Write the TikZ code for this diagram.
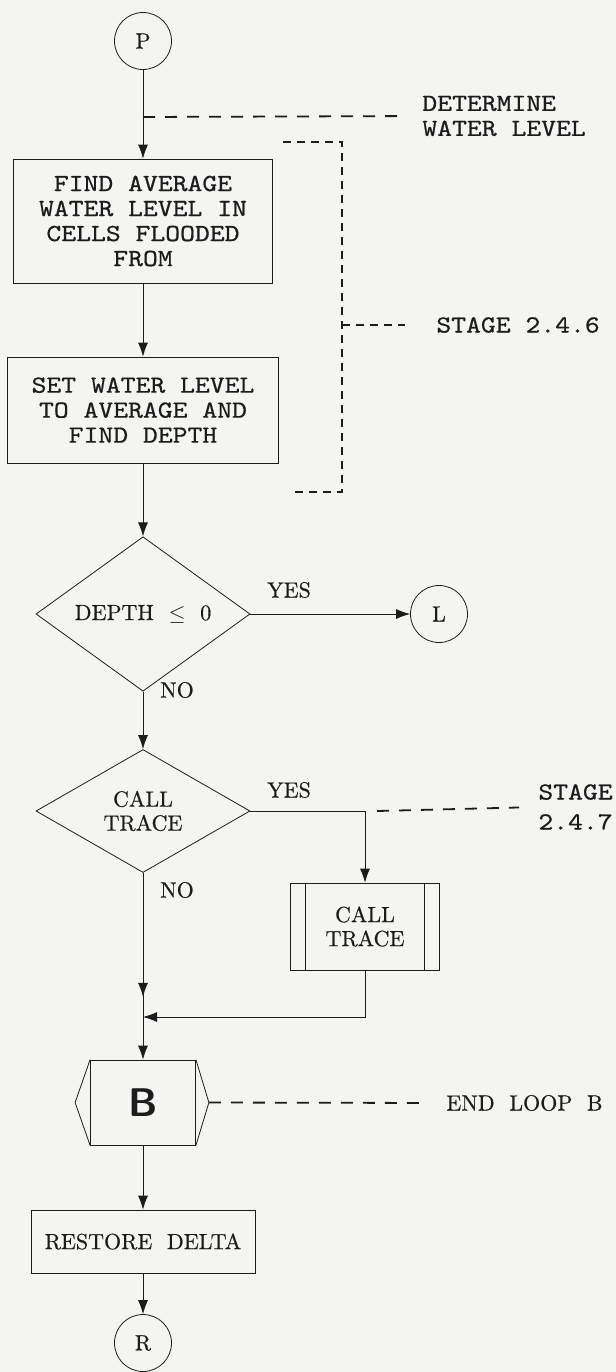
\documentclass[tikz,border=0pt]{standalone}
\usepackage{fontspec}
\usetikzlibrary{arrows.meta,calc,positioning,shapes.geometric,decorations.markings}
\newfontfamily\twfamily{lmmono10-regular.otf}[FakeStretch=1.15,FakeBold=0.6]
\newfontfamily\sefamily{lmroman10-regular.otf}[FakeBold=0.5]
\newcommand\typew{\fontsize{12.3}{12.5}\twfamily}
\newcommand\flowfont{\fontsize{11}{12}\sefamily}
\definecolor{ink}{HTML}{1C1C1C}
\definecolor{paper}{HTML}{F4F4F2}
\tikzset{>={Latex[length=7pt,width=5pt]},line width=1.2pt,
  every node/.style={font=\flowfont,text=ink},
  flow/.style={->,draw=ink},
  link/.style={draw=ink},
  conn/.style={circle,draw=ink,minimum size=28.5pt,inner sep=0pt},
  procbox/.style={rectangle,draw=ink,align=center,inner sep=0pt},
  test/.style={diamond,draw=ink,align=center,inner sep=0pt,
    minimum width=107pt,minimum height=61.5pt},
  note/.style={font=\typew,align=left,anchor=west,inner sep=0pt},
  guide/.style={draw=ink,dash pattern=on 6pt off 5pt,line width=.9pt},
  bracket/.style={draw=ink,dash pattern=on 4pt off 3pt,line width=.9pt},
  midarrow/.style={postaction={decorate},
    decoration={markings,mark=at position #1 with {\arrow{>}}}}}
\begin{document}
\begin{tikzpicture}[x=0.5pt,y=-0.5pt]
\fill[paper] (0,0) rectangle (616,1372);
\useasboundingbox (0,0) rectangle (616,1372);
\node[conn] (P) at (143,41) {P};
\node[procbox,font=\typew,minimum width=129.5pt,minimum height=62pt] (avg) at (143,221)
  {FIND AVERAGE\\WATER LEVEL IN\\CELLS FLOODED\\FROM};
\node[procbox,font=\typew,minimum width=135.5pt,minimum height=53pt] (level) at (143,410)
  {SET WATER LEVEL\\TO AVERAGE AND\\FIND DEPTH};
\node[test] (depth) at (143,614) {DEPTH \ $\leq$ \ 0};
\node[conn] (L) at (439,614) {L};
\node[test] (ask) at (143,811) {CALL\\TRACE};
\node[procbox,minimum width=74.5pt,minimum height=43.5pt] (trace) at (365,926.5) {CALL\\TRACE};
\draw[link] ([xshift=7.5pt]trace.north west) -- ([xshift=7.5pt]trace.south west);
\draw[link] ([xshift=-8pt]trace.north east) -- ([xshift=-8pt]trace.south east);
\coordinate (join) at (143,1017);
\node[procbox,minimum width=52.5pt,minimum height=42.5pt,font=\fontsize{20}{20}\sffamily\bfseries] (B) at (143,1102.5) {B};
\draw[link] (B.north west) -- ([xshift=-7.5pt]B.west) -- (B.south west);
\draw[link] (B.north east) -- ([xshift=6.5pt]B.east) -- (B.south east);
\node[procbox,minimum width=112pt,minimum height=31.5pt] (restore) at (143,1241.5) {RESTORE \ DELTA};
\node[conn] (R) at (143,1343) {R};
\node at (289,590) (yes1) {YES};
\node at (177,690) (no1) {NO};
\node at (289,790) (yes2) {YES};
\node at (177,890) (no2) {NO};
\draw[flow] (P) -- (avg);
\draw[flow] (avg) -- (level);
\draw[flow] (level) -- (depth);
\draw[flow] (depth) -- (L);
\draw[flow] (depth) -- (ask);
\draw[flow] (ask.east) -| (trace.north);
\draw[link,midarrow=0.86] (ask.south) -- (join);
\draw[flow] (trace.south) |- (join);
\draw[flow] (join) -- (B);
\draw[flow] (B) -- (restore);
\draw[flow] (restore) -- (R);
\coordinate (tap1) at (143,117);
\coordinate (tap2) at (377,811);
\node[note] (water) at (422,116) {DETERMINE\\WATER LEVEL};
\node[note] (stage6) at (436,325) {STAGE 2.4.6};
\node[note] (stage7) at (538,807) {STAGE\\[2.5pt]2.4.7};
\node[note,font=\flowfont] (loop) at (446,1103) {END \ LOOP \ B};
\draw[guide,shorten >=10.5pt] (tap1) -- (water.west);
\draw[bracket] (283,142) -| (342,492) -- (291,492);
\draw[bracket,shorten >=15.5pt] (342,325) -- (stage6.west);
\draw[guide,shorten >=9.5pt] (tap2) -- (stage7.west);
\draw[guide,shorten >=12pt] ([xshift=6.5pt]B.east) -- (loop.west);
\end{tikzpicture}
\end{document}
